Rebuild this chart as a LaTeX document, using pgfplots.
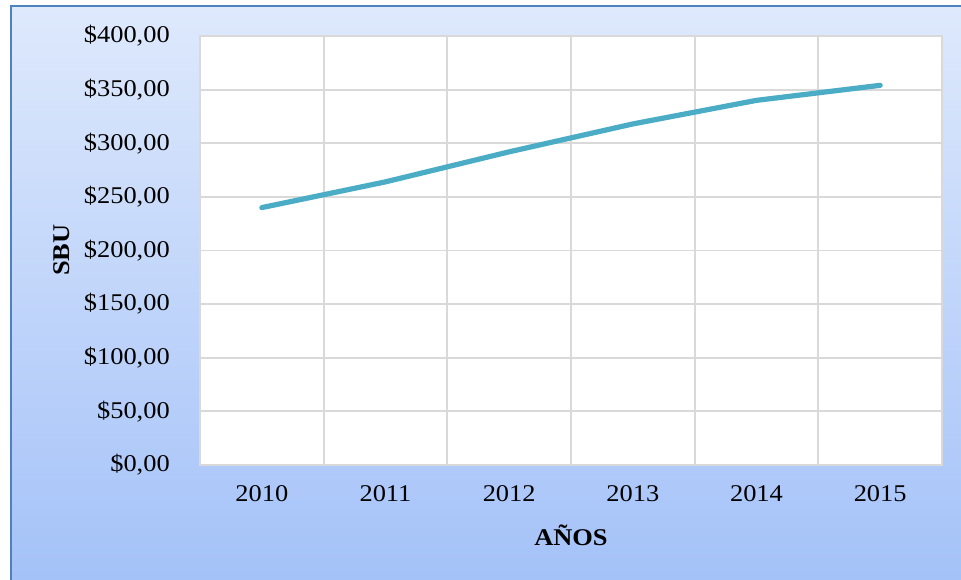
\documentclass[border=0pt]{standalone}
\usepackage{fontspec}
\setmainfont[FakeStretch=1.1]{Liberation Serif}
\usepackage{pgfplots}
\pgfplotsset{compat=1.18}
\definecolor{bgtop}{HTML}{DEE9FC}
\definecolor{bgbot}{HTML}{A3C1F8}
\definecolor{frame}{HTML}{4F81BD}
\definecolor{gridc}{HTML}{D9D9D9}
\definecolor{linec}{HTML}{4BACC6}
\begin{document}
\begin{tikzpicture}
\useasboundingbox (0pt,0pt) rectangle (720.75pt,434.25pt);
\begin{scope}
\clip (0pt,0pt) rectangle (720.75pt,434.25pt);
\fill[white] (0pt,0pt) rectangle (720.75pt,434.25pt);
\shade[top color=bgtop, bottom color=bgbot] (8.25pt,-10pt) rectangle (730pt,429.75pt);
\draw[frame, line width=1.5pt] (8.25pt,-10pt) rectangle (730pt,429.75pt);
\end{scope}
\begin{axis}[
  at={(150pt,407.25pt)}, anchor=north west,
  scale only axis, width=556.5pt, height=321.75pt,
  axis background/.style={fill=white},
  xmin=-0.5, xmax=5.5, ymin=0, ymax=400,
  xtick={0,1,2,3,4,5},
  xticklabels={2010,2011,2012,2013,2014,2015},
  minor xtick={0.5,1.5,2.5,3.5,4.5},
  xminorgrids=true, ymajorgrids=true,
  ytick={0,50,100,150,200,250,300,350,400},
  yticklabels={{\$0,00},{\$50,00},{\$100,00},{\$150,00},{\$200,00},{\$250,00},{\$300,00},{\$350,00},{\$400,00}},
  major tick length=0pt, minor tick length=0pt,
  axis line style={gridc, line width=1.4pt},
  grid style={gridc, line width=1.4pt},
  minor grid style={gridc, line width=1.4pt},
  tick label style={font=\fontsize{18}{20}\selectfont, text=black},
  yticklabel style={inner sep=0pt, anchor=east, xshift=-22.5pt},
  xticklabel style={inner sep=0pt, anchor=north, yshift=-15pt},
  xlabel={AÑOS}, ylabel={SBU},
  label style={font=\fontsize{18}{20}\selectfont\bfseries},
  xlabel style={at={(axis description cs:0.5,-0.163)}, anchor=center},
  ylabel style={at={(axis description cs:-0.186,0.501)}, anchor=center},
  clip=false,
]
\addplot[linec, line width=3.9pt, line cap=round, line join=round] coordinates {
(0,240) (1,264) (2,292) (3,318) (4,340) (5,354)
};
\end{axis}
\end{tikzpicture}
\end{document}
